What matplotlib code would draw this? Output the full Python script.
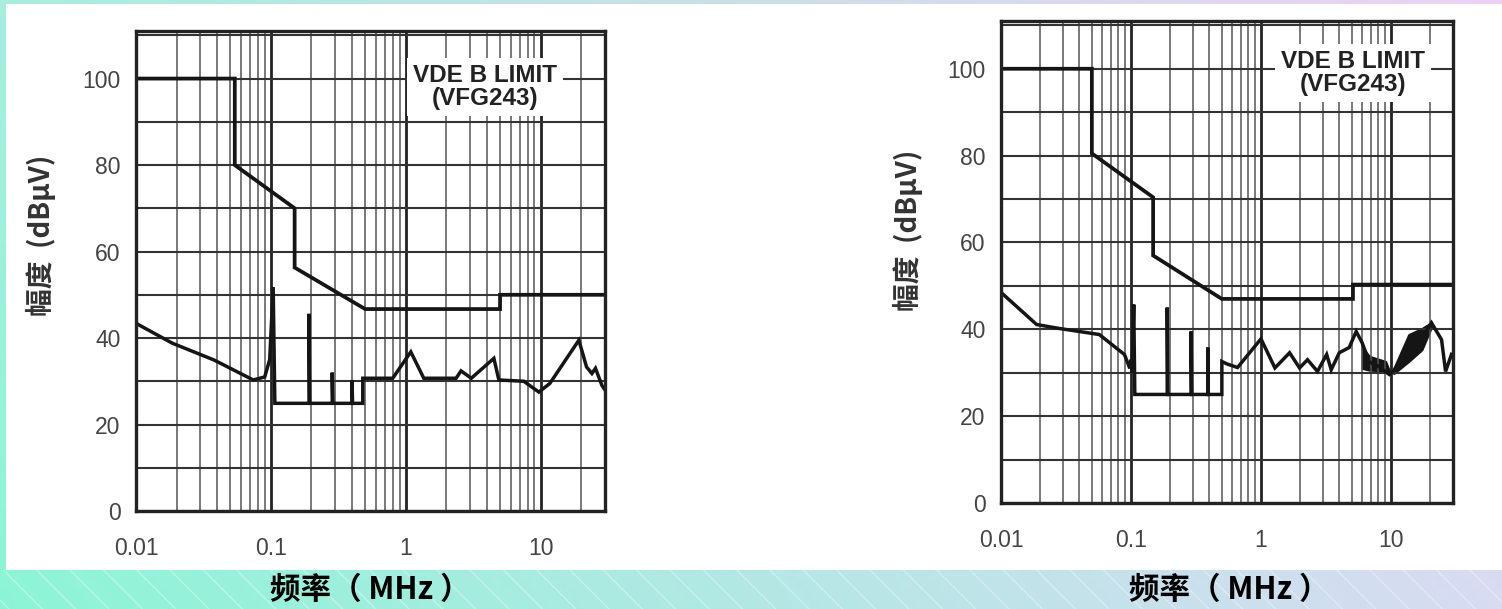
import numpy as np
import matplotlib.pyplot as plt
from matplotlib.patches import Rectangle
from matplotlib.ticker import LogLocator, NullFormatter, MultipleLocator

plt.rcParams['font.family'] = ['Liberation Sans', 'DejaVu Sans']
plt.rcParams['hatch.linewidth'] = 1.0

# ---- data (MHz, dBuV) ----
x_ticks = [0.01, 0.1, 1, 10]
x_ticklabels = ['0.01', '0.1', '1', '10']
y_ticks = [0, 20, 40, 60, 80, 100]

# left plot
limit_f_L = [0.01, 0.054, 0.054, 0.15, 0.15, 0.5, 5.0, 5.0, 30]
limit_v_L = [100, 100, 80, 70, 56.3, 46.7, 46.7, 50, 50]
sig_f_L = [0.01, 0.0186, 0.038, 0.074, 0.09, 0.098, 0.104, 0.107,
           0.192, 0.192, 0.194, 0.285, 0.285, 0.288, 0.40, 0.40, 0.403,
           0.48, 0.48, 0.80, 1.09, 1.36, 2.36, 2.57, 3.06, 4.5, 4.9,
           7.5, 9.7, 11.7, 19.2, 21.9, 24.0, 25.5, 28.5, 30]
sig_v_L = [43.4, 38.8, 34.9, 30.3, 31.0, 35.0, 51.8, 24.9,
           24.9, 45.6, 24.9, 24.9, 32.0, 24.9, 24.9, 30.2, 24.9,
           24.9, 30.7, 30.7, 36.8, 30.7, 30.7, 32.4, 30.7, 35.3, 30.3,
           30.0, 27.5, 29.5, 39.5, 33.3, 31.8, 33.0, 29.0, 28.0]

# right plot
limit_f_R = [0.01, 0.05, 0.05, 0.148, 0.148, 0.5, 5.1, 5.1, 30]
limit_v_R = [100, 100, 80.5, 70.4, 57, 47, 47, 50.3, 50.3]
sig_f_R = [0.01, 0.0188, 0.028, 0.057, 0.089, 0.098, 0.100, 0.102, 0.105, 0.107,
           0.19, 0.19, 0.192, 0.29, 0.29, 0.293, 0.39, 0.39, 0.393,
           0.5, 0.5, 0.55, 0.66, 1.0, 1.28, 1.66, 1.98, 2.28, 2.72, 3.2,
           3.47, 4.0, 4.77, 5.4, 6.0, 6.8, 8.0, 9.7, 10.5, 13.7, 17.3,
           20.5, 24.5, 26.3, 29.2, 30]
sig_v_R = [48.5, 41.1, 40.2, 38.8, 34.2, 31.0, 33.0, 30.0, 45.7, 25.0,
           25.0, 45.0, 25.0, 25.0, 39.5, 25.0, 25.0, 35.8, 25.0,
           25.0, 32.6, 32.0, 31.2, 37.8, 31.1, 34.6, 31.1, 33.0, 30.3, 34.2,
           30.7, 34.6, 35.8, 39.5, 36.9, 32.5, 31.5, 29.6, 30.5, 35.0, 38.0,
           41.5, 37.6, 30.3, 34.2, 34.0]
# dense (blackened) parts of the right trace
band1_f = [6.0, 6.8, 9.1, 9.7]
band1_hi = [36.0, 33.8, 32.6, 30.5]
band1_lo = [31.0, 30.6, 30.4, 29.6]
band2_f = [10.5, 13.7, 17.3, 20.5]
band2_hi = [31.0, 38.8, 40.2, 41.6]
band2_lo = [29.8, 32.6, 35.3, 40.5]

W, H = 1502, 609
fig = plt.figure(figsize=(W / 100, H / 100), dpi=100)


def fx(px):
    return px / W


def fy(py):
    return 1 - py / H


# slide background: gradient frame, white page, hatched bottom strip
bg = fig.add_axes([0, 0, 1, 1], zorder=-10)
bg.set_axis_off()
tl = np.array([0.66, 0.93, 0.87])
tr = np.array([0.93, 0.82, 0.96])
bl = np.array([0.55, 0.96, 0.84])
br = np.array([0.85, 0.86, 0.95])
u = np.linspace(0, 1, 300)[None, :, None]
v = np.linspace(0, 1, 60)[:, None, None]
grad = (1 - v) * ((1 - u) * bl + u * br) + v * ((1 - u) * tl + u * tr)
bg.imshow(grad, extent=[0, 1, 0, 1], origin='lower', aspect='auto')
bg.add_patch(Rectangle((fx(6), fy(570)), 1, fy(4) - fy(570), color='white', lw=0))
bg.add_patch(Rectangle((0, 0), 1, fy(570), fill=False, hatch='\\',
                       edgecolor=(1, 1, 1, 0.35), lw=0))
bg.set_xlim(0, 1)
bg.set_ylim(0, 1)


def panel(left, right, top, zero, limit_f, limit_v, sig_f, sig_v):
    ax = fig.add_axes([fx(left), fy(zero), fx(right) - fx(left), fy(top) - fy(zero)])
    ax.set_xscale('log')
    ax.set_xlim(0.01, 30)
    ax.set_ylim(0, 111)
    ax.set_xticks(x_ticks)
    ax.set_xticklabels(x_ticklabels)
    ax.xaxis.set_minor_locator(LogLocator(base=10, subs=np.arange(2, 10)))
    ax.xaxis.set_minor_formatter(NullFormatter())
    ax.set_yticks(y_ticks)
    ax.yaxis.set_minor_locator(MultipleLocator(10))
    ax.grid(which='major', axis='x', color='#222222', lw=2.0)
    ax.grid(which='minor', axis='x', color='#555555', lw=1.1)
    ax.grid(which='both', axis='y', color='#333333', lw=1.5)
    ax.tick_params(which='both', length=0, labelsize=16.5, colors='#444444')
    ax.tick_params(axis='x', pad=19)
    ax.tick_params(axis='y', pad=11)
    for s in ax.spines.values():
        s.set_linewidth(2.4)
        s.set_color('#222222')
    ax.plot(limit_f, limit_v, color='#151515', lw=2.7, solid_joinstyle='miter')
    ax.plot(sig_f, sig_v, color='#151515', lw=2.5, solid_joinstyle='miter')
    return ax


axL = panel(136, 605, 31, 511, limit_f_L, limit_v_L, sig_f_L, sig_v_L)
axR = panel(1001, 1453, 21, 503, limit_f_R, limit_v_R, sig_f_R, sig_v_R)
axR.fill_between(band1_f, band1_lo, band1_hi, color='#151515', lw=1.5)
axR.fill_between(band2_f, band2_lo, band2_hi, color='#151515', lw=1.5)

cjk = ['Noto Sans CJK SC', 'DejaVu Sans']
for cx, cy in [(485, 87), (1353, 73)]:
    fig.text(fx(cx), fy(cy), 'VDE B LIMIT\n(VFG243)', ha='center', va='center',
             fontsize=17.5, fontweight='bold', color='#222222', linespacing=1.05,
             bbox=dict(facecolor='white', edgecolor='none', pad=4))

for cx, cy in [(41, 235), (908, 230)]:
    fig.text(fx(cx), fy(cy), '幅度  (dBμV)', rotation=90, ha='center', va='center',
             fontsize=20, fontweight='bold', color='#333333', family=cjk)

for cx in [370, 1229]:
    fig.text(fx(cx), fy(590), '频率（ MHz ）', ha='center', va='center',
             fontsize=22, fontweight='bold', color='black', family=cjk)

fig.savefig('out.png', dpi=100)
